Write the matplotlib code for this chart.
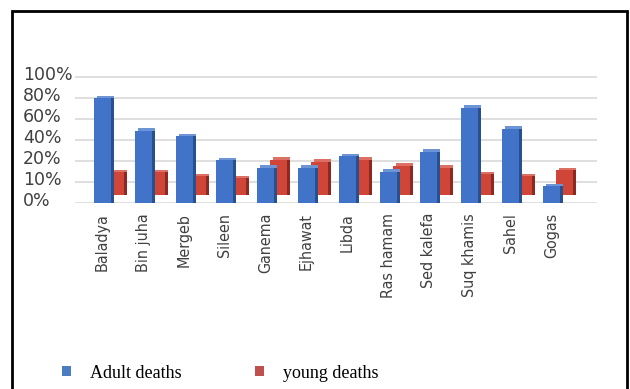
import numpy as np
import matplotlib
matplotlib.use("Agg")
import matplotlib.pyplot as plt
from matplotlib.patches import Patch, Rectangle
from matplotlib.transforms import ScaledTranslation

# district names and death shares (%)
districts = ["Baladya", "Bin juha", "Mergeb", "Sileen", "Ganema", "Ejhawat",
             "Libda", "Ras hamam", "Sed kalefa", "Suq khamis", "Sahel", "Gogas"]
adult = [80, 49, 44, 21, 17, 17, 25, 15, 29, 71, 51, 8]
young = [11, 11, 9, 8, 17, 16, 17, 14, 13, 10, 9, 12]

# the value axis puts these ticks at equal steps
tick_vals = [0, 10, 20, 40, 60, 80, 100]
tick_labels = ["0%", "10%", "20%", "40%", "60%", "80%", "100%"]
steps = np.arange(len(tick_vals))


def fwd(v):
    return np.interp(v, tick_vals, steps) + \
        np.where(np.asarray(v) > 100, (np.asarray(v) - 100) / 20.0, 0)


def inv(s):
    return np.interp(s, steps, tick_vals) + \
        np.where(np.asarray(s) > 6, (np.asarray(s) - 6) * 20.0, 0)


W, H = 630, 389
fig = plt.figure(figsize=(W / 100, H / 100), dpi=100)
ax = fig.add_axes([75 / W, 1 - 203.3 / H, (597 - 75) / W, (203.3 - 75.2) / H])
ax.set_yscale("function", functions=(fwd, inv))
ax.set_ylim(0, 102)

x = np.arange(len(districts))
ax.set_xlim(-0.674, 12.12)

blue, blue_dark, blue_top = "#4174c8", "#284f8e", "#6d95d6"
red, red_dark, red_top = "#cf4538", "#8c2a22", "#dd7064"

px = 1 / 100.0
bw = 0.42


def shifted(dx, dy):
    return ax.transData + ScaledTranslation(dx * px, -dy * px, fig.dpi_scale_trans)


def bar3d(vals, dx, dy, face, dark, top, z):
    # top cap, side face, then front face
    for (sx, sy, c, zz) in [(dx + 3, dy - 2.5, top, z), (dx + 3, dy, dark, z + 0.1),
                            (dx, dy, face, z + 0.2)]:
        bars = ax.bar(x, vals, width=bw, color=c, linewidth=0, zorder=zz)
        for b in bars:
            b.set_transform(shifted(sx, sy))
            b.set_clip_on(False)


bar3d(young, 13, -8, red, red_dark, red_top, 2)
bar3d(adult, 0, 0, blue, blue_dark, blue_top, 3)

ax.set_yticks(tick_vals)
ax.set_yticklabels(tick_labels)
ax.grid(axis="y", color="#d9d9d9", linewidth=1.2, zorder=0)
ax.set_axisbelow(True)
ax.tick_params(axis="y", length=0, pad=37.4, labelsize=12.5, labelcolor="#404040")
for lab in ax.get_yticklabels():
    lab.set_horizontalalignment("left")
    lab.set_transform(lab.get_transform() + ScaledTranslation(0, 4 * px, fig.dpi_scale_trans))

ax.set_xticks(x)
ax.set_xticklabels(districts, rotation=90, va="top", ha="center",
                   family="DejaVu Sans", fontstretch="condensed", fontsize=11.5)
ax.tick_params(axis="x", length=0, pad=7, labelcolor="#404040")
for s in ax.spines.values():
    s.set_visible(False)

handles = [Patch(facecolor="#4a7cc0", edgecolor="none"),
           Patch(facecolor="#c0504d", edgecolor="none")]
fig.legend(handles, ["Adult deaths", "young deaths"], loc="center left",
           bbox_to_anchor=(46 / W, 1 - 373 / H), ncol=2, frameon=False,
           handlelength=0.5, handleheight=0.4, handletextpad=1.05,
           columnspacing=4.05, prop={"family": "Liberation Serif", "size": 13})

# outer frame
fig.patches.append(Rectangle((12 / W, -0.05), (627 - 12) / W, 1 - 11 / H + 0.05,
                             transform=fig.transFigure, fill=False,
                             edgecolor="black", linewidth=2))

fig.savefig("out.png", dpi=100)
